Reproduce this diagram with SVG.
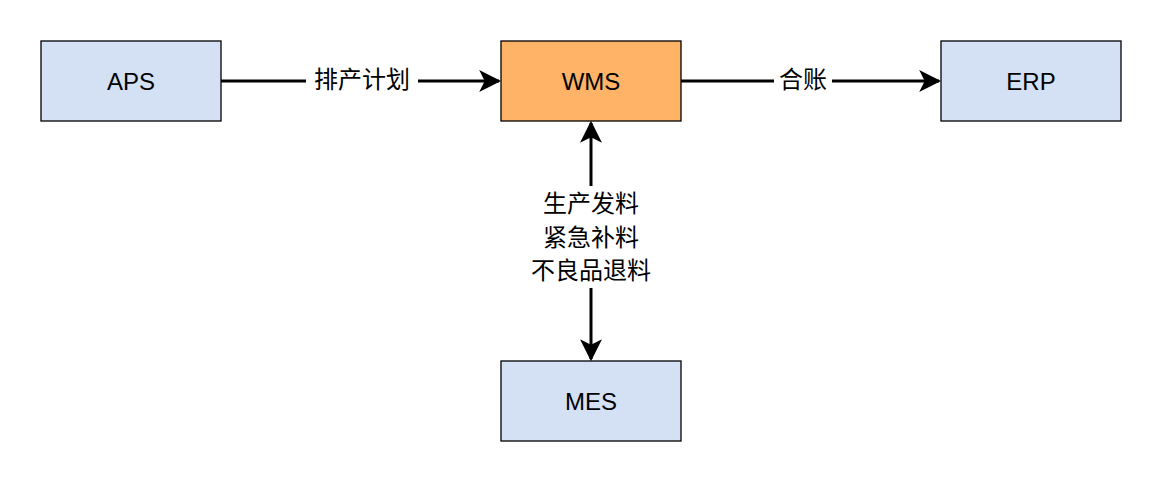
<svg xmlns="http://www.w3.org/2000/svg" width="1162" height="482" viewBox="0 0 1162 482">
<style>
.n{stroke:#000;stroke-width:1.3}
.b{fill:#d4e1f5}
.t{font-family:"Liberation Sans","Noto Sans CJK SC",sans-serif;font-size:24px;text-anchor:middle;dominant-baseline:central}
.l{font-family:"Liberation Sans","Noto Sans CJK SC",sans-serif;font-size:24px;text-anchor:middle;dominant-baseline:central}
.c{stroke:#000;stroke-width:3;fill:none}
</style>
<defs><marker id="a" markerWidth="8" markerHeight="8" refX="7" refY="4" orient="auto-start-reverse" markerUnits="userSpaceOnUse" viewBox="0 0 8 8"><path d="M0,0L8,4L0,8L2,4Z" fill="#000"/></marker>
<marker id="m" viewBox="0 0 10 10" refX="9" refY="5" markerWidth="22" markerHeight="22" markerUnits="userSpaceOnUse" orient="auto-start-reverse"><path d="M0,0L10,5L0,10L2.5,5Z" fill="#000"/></marker></defs>
<g id="connectors">
<path class="c" d="M221,81H499" marker-end="url(#m)"/>
<path class="c" d="M681,81H939" marker-end="url(#m)"/>
<path class="c" d="M591,123V359" marker-start="url(#m)" marker-end="url(#m)"/>
<rect x="306" y="64" width="112" height="34" fill="#fff"/>
<text class="l" x="362" y="79">排产计划</text>
<rect x="774" y="64" width="58" height="34" fill="#fff"/>
<text class="l" x="803" y="79">合账</text>
<rect x="520" y="186" width="142" height="102" fill="#fff"/>
<text class="l" x="591" y="203">生产发料</text>
<text class="l" x="591" y="237">紧急补料</text>
<text class="l" x="591" y="270">不良品退料</text>
</g>
<g id="APS"><rect class="n b" x="41" y="41" width="180" height="80"/><text class="t" x="131" y="81">APS</text></g>
<g id="WMS"><rect class="n" fill="#ffb366" x="501" y="41" width="180" height="80"/><text class="t" x="591" y="81">WMS</text></g>
<g id="ERP"><rect class="n b" x="941" y="41" width="180" height="80"/><text class="t" x="1031" y="81">ERP</text></g>
<g id="MES"><rect class="n b" x="501" y="361" width="180" height="80"/><text class="t" x="591" y="401">MES</text></g>
</svg>
